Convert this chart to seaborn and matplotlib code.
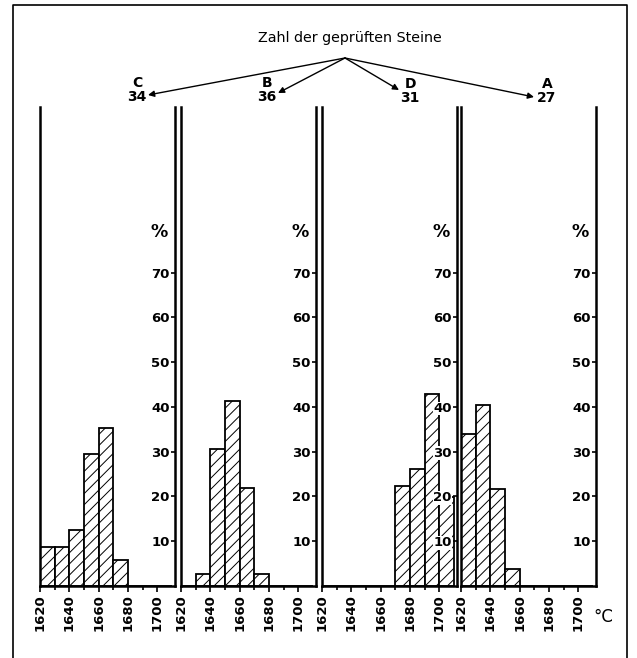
import numpy as np
import pandas as pd
import matplotlib
matplotlib.use("Agg")
import matplotlib.pyplot as plt
from matplotlib.lines import Line2D
import seaborn as sns

# ---- data ----
panel_names = ["C", "B", "D", "A"]
stone_counts = [34, 36, 31, 27]
bin_edges = [1620, 1630, 1640, 1650, 1660, 1670, 1680, 1690, 1700, 1710]
temps_C = [1620, 1630, 1640, 1650, 1660, 1670]
pct_C = [8.8, 8.8, 12.4, 29.4, 35.3, 5.9]
temps_B = [1630, 1640, 1650, 1660, 1670]
pct_B = [2.7, 30.7, 41.4, 21.8, 2.7]
temps_D = [1670, 1680, 1690, 1700]
pct_D = [22.4, 26.2, 43.0, 19.8]
temps_A = [1620, 1630, 1640, 1650]
pct_A = [34.0, 40.4, 21.6, 3.9]
x_major = [1620, 1640, 1660, 1680, 1700]
x_minor = [1630, 1650, 1670, 1690]
y_ticks = [10, 20, 30, 40, 50, 60, 70]
title_text = "Zahl der geprüften Steine"

panel_data = [(temps_C, pct_C), (temps_B, pct_B), (temps_D, pct_D), (temps_A, pct_A)]

sns.set_style("ticks")
plt.rcParams["font.family"] = ["DejaVu Sans"]
plt.rcParams["hatch.linewidth"] = 0.7
plt.rcParams["hatch.color"] = "black"
for k in ["text.color", "axes.edgecolor", "xtick.color", "ytick.color", "axes.labelcolor"]:
    plt.rcParams[k] = "black"

W, H = 637, 658
fig = plt.figure(figsize=(W / 100, H / 100), dpi=100)
fig.patch.set_facecolor("white")

lefts_px = [40, 181, 322, 461]
width_px = 135
base_px, top_px = 586, 107
XMAX = 1712

for i, (left, (temps, pct)) in enumerate(zip(lefts_px, panel_data)):
    ax = fig.add_axes([left / W, (H - base_px) / H, width_px / W, (base_px - top_px) / H])
    ax.set_facecolor("none")
    df = pd.DataFrame({"temp": [t + 5 for t in temps], "pct": pct})
    sns.histplot(data=df, x="temp", weights="pct", bins=bin_edges, ax=ax,
                 color="white", edgecolor="black", linewidth=1.3, alpha=1,
                 hatch="///")
    for p in ax.patches:
        p.set_facecolor("white")
        p.set_edgecolor("black")
    ax.set_axisbelow(False)
    ax.set_xlim(1620, XMAX)
    ax.set_ylim(0, 107)
    ax.set_xlabel("")
    ax.set_ylabel("")
    # y axis on the right-hand vertical line, labels to the left of it
    ax.spines["left"].set_position(("axes", 1.0))
    ax.spines["right"].set_position(("axes", 0.0))
    ax.spines["right"].set_visible(True)
    ax.spines["top"].set_visible(False)
    for s in ["left", "right", "bottom"]:
        ax.spines[s].set_linewidth(1.8)
        ax.spines[s].set_zorder(5)
    ax.yaxis.set_ticks_position("left")
    ax.set_yticks(y_ticks)
    ax.set_yticklabels([str(v) for v in y_ticks], fontsize=9.5, fontweight="bold")
    for lab in ax.get_yticklabels():
        lab.set_bbox(dict(facecolor="white", edgecolor="none", pad=0.3))
    ax.tick_params(axis="y", direction="out", length=3, width=1.2, pad=1)
    ax.set_xticks(x_major)
    ax.set_xticks(x_minor, minor=True)
    ax.set_xticklabels([str(v) for v in x_major], rotation=90, fontsize=9.5,
                       fontweight="bold")
    ax.tick_params(axis="x", which="major", direction="out", length=4, width=1.2, pad=2)
    ax.tick_params(axis="x", which="minor", direction="out", length=3, width=1.2)
    ax.annotate("%", xy=(1.0, 79), xycoords=("axes fraction", "data"),
                xytext=(-5, 0), textcoords="offset points", ha="right", va="center",
                fontsize=12.5, fontweight="bold")

# labels and arrows at the top
fig.text(350 / W, 1 - 38 / H, title_text, ha="center", va="center", fontsize=10.3)
label_px = [(137, 90), (267, 90), (410, 91), (547, 91)]
tips_px = [(148, 95), (278, 93), (399, 90), (534, 97)]
origin = (345 / W, 1 - 58 / H)
for name, cnt, (lx, ly), (tx, ty) in zip(panel_names, stone_counts, label_px, tips_px):
    fig.text(lx / W, 1 - ly / H, f"{name}\n{cnt}", ha="center", va="center",
             fontsize=10, fontweight="bold", linespacing=0.95)
    fig.add_artist(matplotlib.patches.FancyArrowPatch(
        posA=origin, posB=(tx / W, 1 - ty / H), transform=fig.transFigure,
        arrowstyle="-|>", mutation_scale=9, lw=1.0, color="black",
        shrinkA=0, shrinkB=0))

fig.text(603 / W, 1 - 617 / H, "°C", ha="center", va="center", fontsize=12)

# outer frame
fig.add_artist(Line2D([13 / W, 13 / W, 627 / W, 627 / W], [0, 1 - 5 / H, 1 - 5 / H, 0],
                      transform=fig.transFigure, color="black", lw=1.2))

fig.savefig("out.png", dpi=100, facecolor="white")
